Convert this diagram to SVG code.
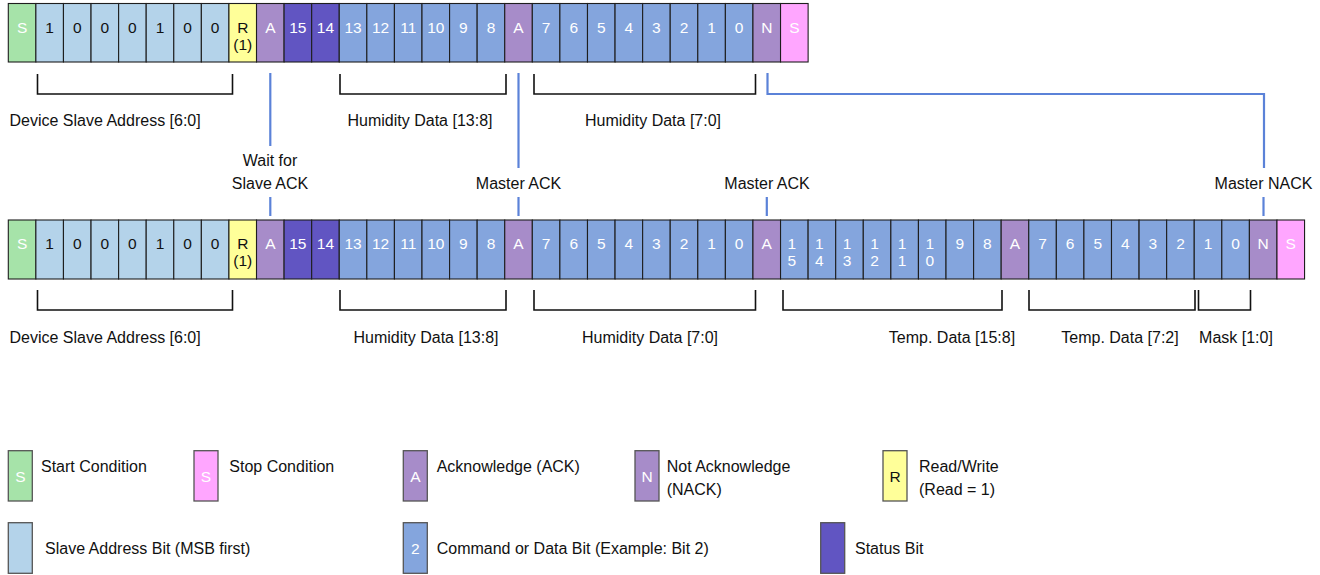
<svg xmlns="http://www.w3.org/2000/svg" width="1320" height="575" viewBox="0 0 1320 575">
<style>
text{font-family:"Liberation Sans",Arial,Helvetica,sans-serif;}
.c rect{stroke:#1e1e1e;stroke-width:1.1;}
.c text{font-size:15.5px;text-anchor:middle;fill:#fff;}
.c text.k{fill:#111;}
.st rect{fill:#a6e3a9;}
.ad rect{fill:#b4d3ea;}
.rw rect{fill:#ffff99;}
.ak rect{fill:#a78cc9;}
.ss rect{fill:#6155c2;}
.dt rect{fill:#84a5dd;}
.sp rect{fill:#ffa6ff;}
.lg rect{stroke:#555;stroke-width:1.3;}
text.lbl{font-size:16px;fill:#111;}
.mid{text-anchor:middle;}
.br{fill:none;stroke:#111;stroke-width:1.6;}
.bl{fill:none;stroke:#5b82d8;stroke-width:2.2;}
</style>

<!-- TOP ROW -->
<g id="row-top">
<g id="t0" class="c st"><rect x="8.30" y="3.5" width="27.58" height="58.5"/><text x="22.09" y="32.5">S</text></g>
<g id="t1" class="c ad"><rect x="35.88" y="3.5" width="27.58" height="58.5"/><text class="k" x="49.67" y="32.5">1</text></g>
<g id="t2" class="c ad"><rect x="63.46" y="3.5" width="27.58" height="58.5"/><text class="k" x="77.25" y="32.5">0</text></g>
<g id="t3" class="c ad"><rect x="91.04" y="3.5" width="27.58" height="58.5"/><text class="k" x="104.83" y="32.5">0</text></g>
<g id="t4" class="c ad"><rect x="118.62" y="3.5" width="27.58" height="58.5"/><text class="k" x="132.41" y="32.5">0</text></g>
<g id="t5" class="c ad"><rect x="146.20" y="3.5" width="27.58" height="58.5"/><text class="k" x="159.99" y="32.5">1</text></g>
<g id="t6" class="c ad"><rect x="173.78" y="3.5" width="27.58" height="58.5"/><text class="k" x="187.57" y="32.5">0</text></g>
<g id="t7" class="c ad"><rect x="201.36" y="3.5" width="27.58" height="58.5"/><text class="k" x="215.15" y="32.5">0</text></g>
<g id="t8" class="c rw"><rect x="228.94" y="3.5" width="27.58" height="58.5"/><text class="k" x="242.73" y="32.5">R</text><text class="k" x="242.73" y="50">(1)</text></g>
<g id="t9" class="c ak"><rect x="256.52" y="3.5" width="27.58" height="58.5"/><text x="270.31" y="32.5">A</text></g>
<g id="t10" class="c ss"><rect x="284.10" y="3.5" width="27.58" height="58.5"/><text x="297.89" y="32.5">15</text></g>
<g id="t11" class="c ss"><rect x="311.68" y="3.5" width="27.58" height="58.5"/><text x="325.47" y="32.5">14</text></g>
<g id="t12" class="c dt"><rect x="339.26" y="3.5" width="27.58" height="58.5"/><text x="353.05" y="32.5">13</text></g>
<g id="t13" class="c dt"><rect x="366.84" y="3.5" width="27.58" height="58.5"/><text x="380.63" y="32.5">12</text></g>
<g id="t14" class="c dt"><rect x="394.42" y="3.5" width="27.58" height="58.5"/><text x="408.21" y="32.5">11</text></g>
<g id="t15" class="c dt"><rect x="422.00" y="3.5" width="27.58" height="58.5"/><text x="435.79" y="32.5">10</text></g>
<g id="t16" class="c dt"><rect x="449.58" y="3.5" width="27.58" height="58.5"/><text x="463.37" y="32.5">9</text></g>
<g id="t17" class="c dt"><rect x="477.16" y="3.5" width="27.58" height="58.5"/><text x="490.95" y="32.5">8</text></g>
<g id="t18" class="c ak"><rect x="504.74" y="3.5" width="27.58" height="58.5"/><text x="518.53" y="32.5">A</text></g>
<g id="t19" class="c dt"><rect x="532.32" y="3.5" width="27.58" height="58.5"/><text x="546.11" y="32.5">7</text></g>
<g id="t20" class="c dt"><rect x="559.90" y="3.5" width="27.58" height="58.5"/><text x="573.69" y="32.5">6</text></g>
<g id="t21" class="c dt"><rect x="587.48" y="3.5" width="27.58" height="58.5"/><text x="601.27" y="32.5">5</text></g>
<g id="t22" class="c dt"><rect x="615.06" y="3.5" width="27.58" height="58.5"/><text x="628.85" y="32.5">4</text></g>
<g id="t23" class="c dt"><rect x="642.64" y="3.5" width="27.58" height="58.5"/><text x="656.43" y="32.5">3</text></g>
<g id="t24" class="c dt"><rect x="670.22" y="3.5" width="27.58" height="58.5"/><text x="684.01" y="32.5">2</text></g>
<g id="t25" class="c dt"><rect x="697.80" y="3.5" width="27.58" height="58.5"/><text x="711.59" y="32.5">1</text></g>
<g id="t26" class="c dt"><rect x="725.38" y="3.5" width="27.58" height="58.5"/><text x="739.17" y="32.5">0</text></g>
<g id="t27" class="c ak"><rect x="752.96" y="3.5" width="27.58" height="58.5"/><text x="766.75" y="32.5">N</text></g>
<g id="t28" class="c sp"><rect x="780.54" y="3.5" width="27.58" height="58.5"/><text x="794.33" y="32.5">S</text></g>
</g>

<!-- BOTTOM ROW -->
<g id="row-bottom">
<g id="b0" class="c st"><rect x="8.30" y="220" width="27.58" height="59"/><text x="22.09" y="249">S</text></g>
<g id="b1" class="c ad"><rect x="35.88" y="220" width="27.58" height="59"/><text class="k" x="49.67" y="249">1</text></g>
<g id="b2" class="c ad"><rect x="63.46" y="220" width="27.58" height="59"/><text class="k" x="77.25" y="249">0</text></g>
<g id="b3" class="c ad"><rect x="91.04" y="220" width="27.58" height="59"/><text class="k" x="104.83" y="249">0</text></g>
<g id="b4" class="c ad"><rect x="118.62" y="220" width="27.58" height="59"/><text class="k" x="132.41" y="249">0</text></g>
<g id="b5" class="c ad"><rect x="146.20" y="220" width="27.58" height="59"/><text class="k" x="159.99" y="249">1</text></g>
<g id="b6" class="c ad"><rect x="173.78" y="220" width="27.58" height="59"/><text class="k" x="187.57" y="249">0</text></g>
<g id="b7" class="c ad"><rect x="201.36" y="220" width="27.58" height="59"/><text class="k" x="215.15" y="249">0</text></g>
<g id="b8" class="c rw"><rect x="228.94" y="220" width="27.58" height="59"/><text class="k" x="242.73" y="249">R</text><text class="k" x="242.73" y="266">(1)</text></g>
<g id="b9" class="c ak"><rect x="256.52" y="220" width="27.58" height="59"/><text x="270.31" y="249">A</text></g>
<g id="b10" class="c ss"><rect x="284.10" y="220" width="27.58" height="59"/><text x="297.89" y="249">15</text></g>
<g id="b11" class="c ss"><rect x="311.68" y="220" width="27.58" height="59"/><text x="325.47" y="249">14</text></g>
<g id="b12" class="c dt"><rect x="339.26" y="220" width="27.58" height="59"/><text x="353.05" y="249">13</text></g>
<g id="b13" class="c dt"><rect x="366.84" y="220" width="27.58" height="59"/><text x="380.63" y="249">12</text></g>
<g id="b14" class="c dt"><rect x="394.42" y="220" width="27.58" height="59"/><text x="408.21" y="249">11</text></g>
<g id="b15" class="c dt"><rect x="422.00" y="220" width="27.58" height="59"/><text x="435.79" y="249">10</text></g>
<g id="b16" class="c dt"><rect x="449.58" y="220" width="27.58" height="59"/><text x="463.37" y="249">9</text></g>
<g id="b17" class="c dt"><rect x="477.16" y="220" width="27.58" height="59"/><text x="490.95" y="249">8</text></g>
<g id="b18" class="c ak"><rect x="504.74" y="220" width="27.58" height="59"/><text x="518.53" y="249">A</text></g>
<g id="b19" class="c dt"><rect x="532.32" y="220" width="27.58" height="59"/><text x="546.11" y="249">7</text></g>
<g id="b20" class="c dt"><rect x="559.90" y="220" width="27.58" height="59"/><text x="573.69" y="249">6</text></g>
<g id="b21" class="c dt"><rect x="587.48" y="220" width="27.58" height="59"/><text x="601.27" y="249">5</text></g>
<g id="b22" class="c dt"><rect x="615.06" y="220" width="27.58" height="59"/><text x="628.85" y="249">4</text></g>
<g id="b23" class="c dt"><rect x="642.64" y="220" width="27.58" height="59"/><text x="656.43" y="249">3</text></g>
<g id="b24" class="c dt"><rect x="670.22" y="220" width="27.58" height="59"/><text x="684.01" y="249">2</text></g>
<g id="b25" class="c dt"><rect x="697.80" y="220" width="27.58" height="59"/><text x="711.59" y="249">1</text></g>
<g id="b26" class="c dt"><rect x="725.38" y="220" width="27.58" height="59"/><text x="739.17" y="249">0</text></g>
<g id="b27" class="c ak"><rect x="752.96" y="220" width="27.58" height="59"/><text x="766.75" y="249">A</text></g>
<g id="b28" class="c dt"><rect x="780.54" y="220" width="27.58" height="59"/><text x="791.8" y="249">1</text><text x="791.8" y="266">5</text></g>
<g id="b29" class="c dt"><rect x="808.12" y="220" width="27.58" height="59"/><text x="819.4" y="249">1</text><text x="819.4" y="266">4</text></g>
<g id="b30" class="c dt"><rect x="835.70" y="220" width="27.58" height="59"/><text x="847.0" y="249">1</text><text x="847.0" y="266">3</text></g>
<g id="b31" class="c dt"><rect x="863.28" y="220" width="27.58" height="59"/><text x="874.6" y="249">1</text><text x="874.6" y="266">2</text></g>
<g id="b32" class="c dt"><rect x="890.86" y="220" width="27.58" height="59"/><text x="902.1" y="249">1</text><text x="902.1" y="266">1</text></g>
<g id="b33" class="c dt"><rect x="918.44" y="220" width="27.58" height="59"/><text x="929.7" y="249">1</text><text x="929.7" y="266">0</text></g>
<g id="b34" class="c dt"><rect x="946.02" y="220" width="27.58" height="59"/><text x="959.81" y="249">9</text></g>
<g id="b35" class="c dt"><rect x="973.60" y="220" width="27.58" height="59"/><text x="987.39" y="249">8</text></g>
<g id="b36" class="c ak"><rect x="1001.18" y="220" width="27.58" height="59"/><text x="1014.97" y="249">A</text></g>
<g id="b37" class="c dt"><rect x="1028.76" y="220" width="27.58" height="59"/><text x="1042.55" y="249">7</text></g>
<g id="b38" class="c dt"><rect x="1056.34" y="220" width="27.58" height="59"/><text x="1070.13" y="249">6</text></g>
<g id="b39" class="c dt"><rect x="1083.92" y="220" width="27.58" height="59"/><text x="1097.71" y="249">5</text></g>
<g id="b40" class="c dt"><rect x="1111.50" y="220" width="27.58" height="59"/><text x="1125.29" y="249">4</text></g>
<g id="b41" class="c dt"><rect x="1139.08" y="220" width="27.58" height="59"/><text x="1152.87" y="249">3</text></g>
<g id="b42" class="c dt"><rect x="1166.66" y="220" width="27.58" height="59"/><text x="1180.45" y="249">2</text></g>
<g id="b43" class="c dt"><rect x="1194.24" y="220" width="27.58" height="59"/><text x="1208.03" y="249">1</text></g>
<g id="b44" class="c dt"><rect x="1221.82" y="220" width="27.58" height="59"/><text x="1235.61" y="249">0</text></g>
<g id="b45" class="c ak"><rect x="1249.40" y="220" width="27.58" height="59"/><text x="1263.19" y="249">N</text></g>
<g id="b46" class="c sp"><rect x="1276.98" y="220" width="27.58" height="59"/><text x="1290.77" y="249">S</text></g>
</g>

<!-- CONNECTORS -->
<g id="connectors">
<path class="br" d="M37.5,74 V94 H232.5 V74"/>
<path class="br" d="M340,74 V94 H506 V74"/>
<path class="br" d="M534,74 V94 H755.5 V74"/>
<path class="br" d="M37.5,290 V310 H232.5 V290"/>
<path class="br" d="M340,290 V310 H506 V290"/>
<path class="br" d="M534,290 V310 H755.5 V290"/>
<path class="br" d="M783,290 V310 H1002 V290"/>
<path class="br" d="M1029,290 V310 H1195 V290"/>
<path class="br" d="M1198.5,290 V310 H1250.5 V290"/>
<path class="bl" d="M270.3,73 V146"/>
<path class="bl" d="M270.3,197 V216"/>
<path class="bl" d="M518.5,73 V168"/>
<path class="bl" d="M518.5,197 V216"/>
<path class="bl" d="M766.8,197 V216"/>
<path class="bl" d="M767.5,73 V94 H1264 V168"/>
<path class="bl" d="M1263.5,197 V216"/>
</g>

<!-- LABELS -->
<g id="labels">
<text class="lbl" x="9.5" y="126">Device Slave Address [6:0]</text>
<text class="lbl mid" x="420" y="126">Humidity Data [13:8]</text>
<text class="lbl mid" x="653" y="126">Humidity Data [7:0]</text>
<text class="lbl mid" x="270" y="166">Wait for</text>
<text class="lbl mid" x="270" y="189">Slave ACK</text>
<text class="lbl mid" x="518.5" y="189">Master ACK</text>
<text class="lbl mid" x="767" y="189">Master ACK</text>
<text class="lbl mid" x="1263.5" y="189">Master NACK</text>
<text class="lbl" x="9.5" y="343">Device Slave Address [6:0]</text>
<text class="lbl mid" x="426" y="343">Humidity Data [13:8]</text>
<text class="lbl mid" x="650" y="343">Humidity Data [7:0]</text>
<text class="lbl mid" x="952" y="343">Temp. Data [15:8]</text>
<text class="lbl mid" x="1120" y="343">Temp. Data [7:2]</text>
<text class="lbl mid" x="1236" y="343">Mask [1:0]</text>
</g>

<!-- LEGEND -->
<g id="legend">
<g id="lg-start"><g class="c lg st"><rect x="8.3" y="450.7" width="24" height="50.3"/><text x="20.3" y="481.5">S</text></g><text class="lbl" x="41" y="472">Start Condition</text></g>
<g id="lg-stop"><g class="c lg sp"><rect x="194" y="450.7" width="24" height="50.3"/><text x="206" y="481.5">S</text></g><text class="lbl" x="229.3" y="472">Stop Condition</text></g>
<g id="lg-ack"><g class="c lg ak"><rect x="403.3" y="450.7" width="24" height="50.3"/><text x="415.3" y="481.5">A</text></g><text class="lbl" x="436.7" y="472">Acknowledge (ACK)</text></g>
<g id="lg-nack"><g class="c lg ak"><rect x="635" y="450.7" width="24" height="50.3"/><text x="647" y="481.5">N</text></g><text class="lbl" x="666.7" y="472">Not Acknowledge</text><text class="lbl" x="666.7" y="494.5">(NACK)</text></g>
<g id="lg-rw"><g class="c lg rw"><rect x="883" y="450.7" width="24" height="50.3"/><text class="k" x="895" y="481.5">R</text></g><text class="lbl" x="919" y="472">Read/Write</text><text class="lbl" x="919" y="494.5">(Read = 1)</text></g>
<g id="lg-addr"><g class="c lg ad"><rect x="8.3" y="522.7" width="24" height="50.6"/></g><text class="lbl" x="45" y="553.5">Slave Address Bit (MSB first)</text></g>
<g id="lg-data"><g class="c lg dt"><rect x="403.3" y="522.7" width="24" height="50.6"/><text x="415.3" y="553.5">2</text></g><text class="lbl" x="436.7" y="553.5">Command or Data Bit (Example: Bit 2)</text></g>
<g id="lg-status"><g class="c lg ss"><rect x="820.7" y="522.7" width="24" height="50.6"/></g><text class="lbl" x="855" y="553.5">Status Bit</text></g>
</g>
</svg>
